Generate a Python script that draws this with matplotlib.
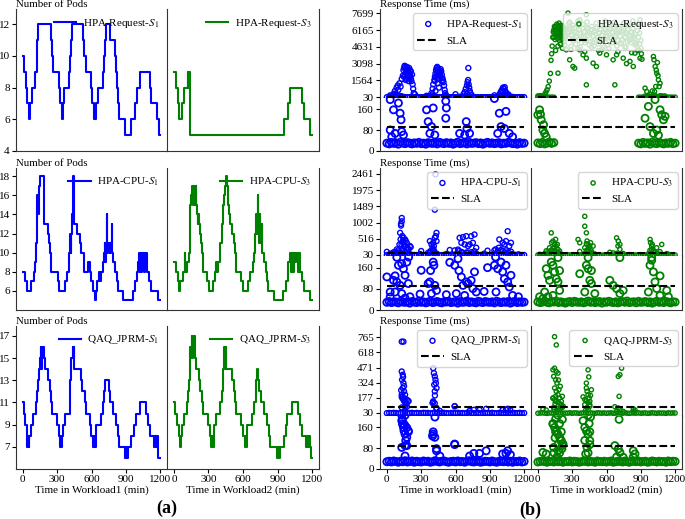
import matplotlib
matplotlib.use("Agg")
import matplotlib.pyplot as plt

plt.rcParams["font.family"] = ["Liberation Serif", "DejaVu Serif"]
plt.rcParams["mathtext.fontset"] = "stix"
plt.rcParams["font.size"] = 8

FIG_W, FIG_H = 685, 519

# ---------------------------------------------------------------- (a) pods
# change points (minutes) and pod count from that minute on
req_s1_t = [0, 14, 26, 35, 55, 64, 78, 110, 121, 127, 136, 246, 252, 263, 312, 324, 338, 347, 362, 402,
            414, 419, 428, 526, 535, 549, 593, 607, 622, 642, 659, 703, 711, 717, 723, 758, 804, 816, 824, 833,
            844, 896, 949, 983, 1001, 1021, 1113, 1122, 1174, 1191, 1200]
req_s1_pods = [10, 9, 8, 7, 6, 7, 8, 9, 10, 11, 12, 11, 10, 9, 8, 7, 6, 7, 8, 9,
               10, 11, 12, 11, 10, 9, 8, 7, 6, 7, 8, 9, 10, 11, 12, 11, 10, 9, 8, 7,
               6, 5, 6, 7, 8, 9, 8, 7, 6, 5, 5]
req_s3_t = [0, 17, 32, 46, 70, 84, 119, 125, 130, 136, 142, 954, 989, 1012, 1113, 1133, 1186, 1200]
req_s3_pods = [9, 8, 7, 6, 7, 8, 9, 8, 9, 8, 5, 6, 7, 8, 7, 6, 5, 5]

cpu_s1_t = [0, 20, 35, 69, 98, 110, 116, 121, 127, 133, 139, 150, 188, 217, 231, 237, 246, 309, 318, 367,
            382, 405, 411, 417, 423, 428, 434, 443, 448, 474, 497, 512, 532, 573, 584, 593, 616, 628, 642, 651,
            665, 671, 680, 700, 708, 714, 720, 726, 732, 738, 746, 758, 766, 775, 781, 790, 804, 827, 836, 879,
            960, 983, 995, 1009, 1015, 1021, 1027, 1032, 1038, 1044, 1050, 1056, 1064, 1070, 1076, 1087, 1102,
            1116, 1180, 1200]
cpu_s1_pods = [8, 7, 6, 7, 8, 9, 11, 12, 16, 14, 17, 18, 13, 12, 11, 10, 8, 7, 6, 7,
               8, 10, 12, 10, 12, 14, 18, 14, 13, 12, 11, 10, 8, 9, 8, 7, 6, 5, 6, 7,
               8, 7, 8, 9, 10, 11, 9, 11, 14, 10, 11, 10, 11, 13, 10, 9, 8, 7, 6, 5,
               6, 7, 8, 9, 10, 8, 10, 8, 10, 9, 10, 8, 10, 9, 10, 8, 7, 6, 5, 5]
cpu_s3_t = [0, 17, 32, 46, 55, 78, 93, 99, 113, 128, 136, 142, 148, 154, 165, 171, 183, 188, 194, 200,
            206, 212, 217, 223, 232, 241, 249, 287, 304, 339, 360, 368, 374, 383, 403, 417, 426, 438, 446, 452,
            461, 470, 478, 490, 507, 519, 528, 539, 583, 600, 641, 664, 687, 699, 707, 716, 722, 728, 733, 739,
            745, 751, 762, 768, 780, 797, 809, 820, 867, 948, 977, 989, 994, 1006, 1015, 1023, 1032, 1041, 1052,
            1064, 1076, 1087, 1099, 1113, 1128, 1180, 1200]
cpu_s3_pods = [9, 8, 7, 6, 7, 8, 10, 8, 9, 10, 12, 15, 16, 17, 15, 17, 15, 17, 15, 14,
               13, 14, 13, 12, 11, 10, 8, 7, 6, 7, 8, 9, 8, 9, 11, 13, 15, 16, 17, 18,
               17, 15, 14, 13, 12, 11, 10, 8, 7, 6, 7, 8, 9, 10, 12, 14, 12, 16, 13, 11,
               14, 11, 13, 10, 9, 8, 7, 6, 5, 6, 7, 8, 9, 10, 8, 10, 8, 10, 9, 10,
               8, 10, 8, 7, 6, 5, 5]

qaq_s1_t = [0, 6, 23, 35, 40, 46, 52, 58, 72, 87, 116, 127, 136, 145, 150, 156, 162, 168, 174, 179,
            185, 194, 223, 237, 246, 252, 301, 312, 324, 333, 335, 341, 353, 370, 411, 416, 425, 434, 440, 445,
            451, 506, 521, 541, 549, 584, 599, 613, 622, 628, 636, 685, 700, 709, 717, 752, 764, 787, 816, 830,
            844, 897, 902, 908, 920, 946, 975, 989, 1027, 1076, 1096, 1111, 1148, 1157, 1162, 1168, 1177, 1183,
            1200]
qaq_s1_pods = [11, 10, 9, 8, 7, 8, 7, 8, 9, 10, 11, 12, 13, 14, 15, 16, 14, 16, 15, 16,
               15, 14, 13, 12, 11, 10, 9, 8, 7, 8, 7, 8, 9, 10, 11, 13, 15, 16, 15, 16,
               14, 13, 12, 11, 10, 9, 8, 7, 8, 7, 9, 10, 11, 12, 13, 12, 11, 10, 9, 8,
               7, 6, 7, 6, 7, 8, 9, 10, 11, 10, 9, 8, 7, 8, 7, 8, 7, 6, 6]
qaq_s3_t = [0, 12, 26, 41, 49, 61, 70, 84, 113, 122, 130, 136, 142, 148, 154, 159, 165, 171, 177, 183,
            188, 220, 229, 244, 252, 299, 310, 322, 330, 336, 345, 368, 403, 415, 426, 432, 438, 444, 449, 455,
            507, 519, 533, 542, 583, 600, 615, 623, 629, 635, 681, 699, 710, 716, 725, 733, 742, 754, 780, 809,
            823, 838, 896, 905, 910, 919, 954, 974, 983, 1026, 1076, 1093, 1113, 1151, 1157, 1162, 1171, 1180,
            1191, 1200]
qaq_s3_pods = [11, 10, 9, 8, 7, 8, 9, 10, 11, 12, 13, 15, 16, 15, 17, 15, 17, 16, 17, 15,
               14, 13, 12, 11, 10, 9, 8, 7, 8, 7, 9, 10, 11, 12, 14, 15, 16, 14, 16, 14,
               13, 12, 11, 10, 9, 8, 7, 8, 7, 9, 10, 11, 12, 13, 14, 13, 12, 11, 10, 9,
               8, 7, 6, 7, 6, 7, 8, 9, 10, 11, 10, 9, 8, 7, 8, 7, 8, 7, 6, 6]

# ------------------------------------------------------- (b) response time
SLA_MS = 90
sla_t = [0, 1200]

sample_t = [0, 20, 40, 60, 80, 100, 120, 140, 160, 180, 200, 220, 240, 260, 280, 300, 320, 340, 360, 380,
            400, 420, 440, 460, 480, 500, 520, 540, 560, 580, 600, 620, 640, 660, 680, 700, 720, 740, 760, 780,
            800, 820, 840, 860, 880, 900, 920, 940, 960, 980, 1000, 1020, 1040, 1060, 1080, 1100, 1120, 1140,
            1160, 1180, 1200]

req_s1_base = [30, 27, 33, 29, 31, 26, 34, 30, 28, 32, 30, 27, 31, 29, 33, 28, 30, 26, 32, 30,
               29, 31, 27, 33, 30, 28, 32, 29, 31, 26, 30, 34, 28, 30, 31, 27, 33, 29, 30, 32,
               28, 31, 26, 30, 33, 29, 31, 28, 30, 32, 27, 30, 29, 33, 31, 28, 30, 26, 32, 29, 30]
req_s1_rt_t = [60, 70, 75, 85, 95, 100, 110, 120, 130, 140, 145, 150, 155, 160, 165, 170, 175, 180, 185, 190,
               195, 200, 205, 210, 215, 220, 225, 230, 235, 245, 150, 160, 170, 180, 190, 200, 210, 165, 175, 185,
               195,
               390, 400, 405, 415, 420, 425, 430, 435, 440, 445, 450, 455, 460, 465, 470, 475, 480, 485, 490, 495,
               500, 505, 510, 420, 430, 440, 450, 460, 470, 480, 445, 455, 425, 400,
               670, 680, 690, 700, 705, 710, 712, 715, 720, 725, 730, 700, 740, 600,
               940, 985, 995, 1005, 1010, 1015, 1025, 1030, 1035, 1045, 1055, 1065,
               29, 58, 101, 116, 124, 130, 29, 43, 72, 145, 347, 405, 361, 390, 376, 419, 515, 520, 515, 694,
               700, 636, 680, 723, 983, 1041, 998, 1027, 969, 1070, 1099]
req_s1_rt = [350, 600, 250, 900, 1100, 700, 1300, 1000, 1700, 2000, 2500, 2700, 2900, 2800, 2600, 2400, 2200,
             2000, 1800, 2300, 2700, 2500, 2000, 1700, 1500, 2100, 1200, 800, 400, 300, 1900, 2100, 1700, 2600,
             1500, 1800, 2400, 1600, 2800, 2500, 2000,
             400, 800, 1200, 1600, 1900, 2200, 2500, 2700, 2800, 2600, 2400, 2200, 2000, 2300, 2600, 2400, 2100,
             1800, 1600, 1400, 1100, 700, 400, 1500, 1800, 2100, 1700, 2500, 1900, 1500, 1300, 900, 600, 300,
             300, 500, 800, 1100, 1400, 1600, 2700, 1200, 900, 600, 400, 350, 250, 300,
             200, 300, 500, 700, 450, 900, 800, 950, 600, 400, 300, 250,
             196, 157, 183, 144, 119, 74, 80, 54, 67, 61, 157, 164, 112, 93, 67, 61, 190, 164, 125, 112,
             86, 67, 61, 67, 144, 151, 93, 86, 67, 67, 54]

req_s3_base = [31, 28, 33, 27, 30, 34, 29, 32,
               6100, 5800, 6400, 6000, 6300, 5900, 6200, 5700, 6000, 5500,
               6200, 5600, 6000, 5300, 6300, 5800, 5100, 6100, 5500, 5900,
               5200, 6200, 5700, 6000, 5400, 6300, 5600, 5900, 5000, 6100,
               5500, 5800, 5200, 6000, 5400, 4900,
               30, 27, 33, 29, 31, 26, 34, 30, 28, 32, 30, 27, 31, 29, 33, 28, 30]
req_s3_rt_t = [60, 70, 80, 90, 100, 110, 115, 120, 125, 130,
               135, 140, 145, 150, 155, 160, 165, 170, 175, 180, 185, 190, 195, 200, 205, 210, 215, 220, 225, 230,
               235, 240, 245, 250, 140, 150, 160, 170, 180, 190, 200, 210, 220, 230, 240, 145, 165, 185, 205, 225,
               175, 195, 215, 155, 235,
               260, 270, 280, 290, 300, 310, 320, 330, 340, 350, 360, 370, 380, 390, 400, 410, 420, 430, 440, 450,
               460, 470, 480, 490, 500, 510, 520, 530, 540, 550, 560, 570, 580, 590, 600, 610, 620, 630, 640, 650,
               660, 670, 680, 690, 700, 710, 720, 730, 740, 750, 760, 770, 780, 790, 800, 810, 820, 830, 840, 850,
               860, 870, 880, 890, 900,
               270, 290, 310, 330, 350, 370, 390, 410, 430, 450, 470, 490, 510, 530, 550, 570, 590, 610, 630, 650,
               670, 690, 710, 730, 750, 770, 790, 810, 830, 850, 870, 890,
               249, 278, 307, 322, 366, 395, 424, 483, 512, 541, 600, 658, 688, 746, 775, 805, 834, 849, 878, 893,
               424, 673, 176, 263, 424, 366, 278, 893, 290, 350, 410, 470, 530, 560, 620, 700, 760, 820, 870, 900,
               905, 910,
               1010, 1015, 1025, 1039, 1054, 1030, 1020, 1068, 937, 952, 1045, 1035, 1050, 1060, 1000, 980,
               15, 0, 29, 44, 59, 73, 50, 23, 937, 980, 1068, 1083, 1098, 1112, 1010, 966, 1024, 1039, 1054]
req_s3_rt = [300, 500, 700, 1000, 1500, 2200, 3400, 4000, 4700, 5500,
             6000, 6200, 5800, 6400, 6100, 6500, 5900, 6300, 6000, 6600, 6200, 5800, 6400, 6100, 5700, 6300,
             6000, 6500, 5900, 6200, 5600, 6100, 5800, 6300, 5500, 5300, 5700, 5400, 5600, 5200, 5500, 5300,
             5600, 5100, 5400, 6500, 6700, 6800, 6600, 6400, 4700, 4900, 4500, 4300, 4800,
             6000, 5400, 6300, 5700, 6100, 5200, 6400, 5600, 6000, 5300, 6200, 5800, 5000, 6300, 5500, 6000,
             5200, 6400, 5700, 5900, 5100, 6200, 5600, 6000, 5300, 6300, 5500, 5900, 5200, 6200, 5700, 6000,
             5400, 6300, 5600, 5900, 5100, 6200, 5500, 6000, 5300, 6400, 5700, 5900, 5200, 6100, 5600, 6000,
             5300, 6300, 5500, 5900, 5100, 6200, 5700, 6000, 5400, 6300, 5600, 5800, 5000, 6100, 5500, 5900,
             5200,
             6800, 4700, 6600, 4900, 7000, 4600, 6700, 5000, 6900, 4800, 6500, 4700, 6800, 4900, 6600, 4600,
             7000, 4800, 6700, 5000, 6900, 4700, 6500, 4900, 6800, 4600, 6600, 5000, 7000, 4800, 6700, 4900,
             4360, 3446, 2836, 2683, 4360, 3903, 3598, 3141, 2836, 4057, 3903, 3446, 3903, 3598, 3100, 3300,
             2836, 4057, 4360, 3598, 1158, 1158, 2225, 7717, 7564, 7106, 6900, 7106, 4400, 4500, 4200, 4600,
             4300, 4400, 4500, 4200, 4600, 4100, 4300, 4500, 4000, 3500,
             3750, 3450, 2836, 2225, 1617, 1006, 548, 1300, 854, 548, 3200, 2500, 2000, 1000, 600, 300,
             157, 138, 119, 80, 67, 54, 100, 140, 125, 93, 157, 138, 119, 132, 67, 170, 196, 80, 60]

cpu_s1_base = [29, 32, 28, 31, 30, 27, 33, 30, 29, 31, 26, 32, 30, 28, 34, 29, 31, 27, 30, 33,
               28, 30, 32, 29, 27, 31, 30, 33, 28, 30, 31, 26, 32, 29, 30, 34, 28, 31, 29, 27,
               33, 30, 28, 32, 30, 29, 31, 27, 33, 30, 28, 31, 29, 32, 26, 30, 33, 28, 31, 29, 30]
cpu_s1_rt_t = [130, 130, 124, 124, 116, 145, 159, 110, 87, 72, 139, 150, 174, 202, 208, 120, 135, 140, 155, 165,
               180, 190, 128,
               419, 425, 434, 419, 405, 390, 411, 376, 399, 382, 434, 428,
               636, 665, 694, 737, 766, 651, 680, 709, 723, 752, 630, 781,
               1056, 983, 1012, 1027, 1041, 1070, 1085, 978, 300, 550, 880, 950,
               0, 29, 58, 87, 101, 130, 145, 159, 174, 188, 116, 72, 130, 29, 159, 202,
               361, 376, 405, 411, 419, 390, 434,
               593, 622, 651, 665, 694, 709, 737, 752, 766, 607, 680, 781,
               940, 969, 998, 1012, 1027, 1041, 1056, 1070, 1085, 954, 1099, 290, 520, 850, 1150]
cpu_s1_rt = [1141, 1042, 963, 913, 695, 546, 496, 347, 199, 129, 447, 347, 397, 298, 268, 500, 600, 400, 300,
             450, 250, 200, 350,
             1389, 2450, 695, 546, 397, 347, 298, 447, 248, 149, 447, 595,
             546, 566, 595, 595, 645, 397, 347, 298, 347, 397, 149, 248,
             744, 496, 397, 347, 447, 298, 397, 248, 150, 180, 160, 200,
             125, 68, 112, 106, 169, 175, 156, 131, 181, 100, 93, 68, 62, 49, 45, 50,
             100, 106, 181, 169, 93, 62, 74,
             169, 194, 125, 93, 106, 100, 112, 81, 144, 62, 55, 68,
             169, 156, 181, 144, 118, 169, 106, 87, 131, 68, 55, 60, 58, 70, 50]

cpu_s3_base = [31, 28, 30, 33, 29, 27, 32, 30, 34, 28, 31, 29, 26, 30, 32, 28, 33, 30, 29, 31,
               27, 30, 34, 29, 31, 28, 30, 32, 26, 31, 29, 33, 30, 28, 31, 27, 30, 32, 29, 34,
               28, 30, 31, 27, 33, 29, 30, 32, 28, 31, 26, 30, 33, 29, 31, 28, 32, 30, 27, 31, 30]
cpu_s3_rt_t = [410, 410, 424, 117, 351, 366, 424, 439, 454, 688, 703, 717, 981, 995, 1083, 132, 146, 161, 102, 176,
               190, 410, 439, 468, 717, 995, 1039, 1068, 483, 120, 140, 155, 170, 430, 445, 460, 700, 985, 1000,
               73, 88, 102, 117, 132, 146, 161, 176, 190, 59, 88, 132, 366, 424, 439, 454, 468, 410, 498, 629,
               658, 688, 717, 746, 980, 995, 1010, 1024, 1039, 1068, 966, 1127, 1141, 15, 44]
cpu_s3_rt = [1190, 893, 695, 695, 496, 397, 367, 347, 300, 546, 447, 347, 496, 298, 347, 447, 347, 298, 248, 198,
             149, 248, 198, 149, 198, 198, 248, 129, 298, 400, 250, 500, 350, 450, 250, 400, 300, 400, 350,
             156, 131, 112, 181, 169, 144, 118, 106, 74, 68, 50, 55, 137, 169, 156, 112, 100, 68, 62, 112,
             93, 81, 62, 74, 169, 188, 144, 106, 81, 55, 68, 74, 50, 50, 43]

qaq_s1_base = [28, 30, 27, 31, 29, 26, 30, 28, 32, 27, 29, 31, 26, 30, 28, 27, 31, 29, 30, 26,
               28, 32, 29, 27, 30, 31, 28, 26, 29, 30, 27, 31, 28, 29, 26, 30, 32, 28, 27, 29,
               31, 26, 28, 30, 29, 27, 31, 28, 26, 30, 29, 28, 31, 27, 30, 26, 29, 28, 31, 27, 29]
qaq_s1_rt_t = [130, 145, 130, 139, 133, 145, 150, 159, 174, 188, 139, 150, 130, 165, 405, 411, 419, 425, 414, 434,
               419, 405, 399, 434, 593, 1041, 810, 136, 155, 420, 428, 142, 125,
               130, 136, 145, 150, 159, 174, 188, 130, 159, 174, 405, 419, 434, 593, 868, 1012, 1056, 463, 723,
               159, 760, 1080]
qaq_s1_rt = [723, 723, 433, 401, 352, 320, 240, 207, 159, 143, 272, 290, 207, 110, 465, 417, 385, 352, 304, 272,
             240, 143, 127, 78, 94, 60, 60, 190, 170, 200, 320, 380, 250,
             186, 173, 160, 147, 134, 122, 147, 83, 90, 90, 134, 122, 70, 96, 70, 58, 70, 50, 50,
             50, 60, 55]

qaq_s3_base = [27, 29, 31, 28, 26, 30, 29, 27, 31, 28, 30, 26, 29, 28, 31, 27, 30, 29, 26, 28,
               31, 29, 27, 30, 28, 26, 31, 29, 28, 30, 27, 29, 31, 26, 28, 30, 29, 27, 31, 28,
               26, 30, 29, 28, 31, 27, 29, 30, 26, 28, 31, 29, 27, 30, 28, 29, 26, 31, 28, 30, 29]
qaq_s3_rt_t = [132, 146, 161, 176, 138, 155, 167, 146, 161, 176, 190, 205, 132, 155, 176, 190, 210, 141, 167, 184,
               196, 214, 146, 161, 150, 180, 200,
               439, 424, 430, 439, 448, 454, 410, 454, 439, 468, 424, 445, 460,
               732, 717, 703, 710, 688, 834,
               132, 146, 161, 176, 190, 205, 220, 155, 138, 176, 214, 395, 410, 424, 439, 454, 430, 418, 673, 703,
               717, 746, 834, 849, 44, 73]
qaq_s3_rt = [449, 465, 433, 417, 385, 352, 320, 272, 240, 207, 175, 143, 175, 143, 94, 62, 78, 62, 46, 255,
             288, 191, 771, 691, 120, 350, 110,
             449, 272, 240, 207, 175, 143, 110, 94, 62, 255, 320, 380, 200,
             465, 401, 385, 191, 46, 46,
             173, 160, 147, 134, 122, 109, 96, 192, 83, 70, 90, 186, 160, 147, 134, 109, 83, 58, 90, 77,
             64, 45, 70, 58, 64, 58]

# --------------------------------------------------------------- layout
COLS_A = [(16, 167), (167, 319)]
COLS_B = [(380, 531), (531, 682)]
ROWS = [(9, 151), (168, 310), (326, 469)]
SPLIT = [97.5, 256, 416]
XTICKS = [0, 300, 600, 900, 1200]
BLUE, GREEN = "#0000ff", "#008000"


def px_rect(left, top, right, bottom):
    return [left / FIG_W, 1 - bottom / FIG_H, (right - left) / FIG_W, (bottom - top) / FIG_H]


def style(ax, col, show_x, top=False, bottom=True):
    ax.spines["top"].set_visible(top)
    ax.spines["bottom"].set_visible(bottom)
    if col == 0:
        ax.spines["right"].set_visible(False)
    for sp in ax.spines.values():
        sp.set_linewidth(0.8)
        sp.set_color("#333333")
    ax.tick_params(direction="out", length=3, width=0.8, labelsize=8, pad=1.5)
    if col == 1:
        ax.tick_params(axis="y", left=False, labelleft=False)
    ax.set_xlim(-60, 1260)
    ax.set_xticks(XTICKS)
    if not show_x:
        ax.tick_params(axis="x", bottom=False, labelbottom=False)


def top_label(ax, text):
    ax.annotate(text, xy=(0, 1), xycoords="axes fraction", xytext=(0, 0.3),
                textcoords="offset points", ha="left", va="bottom", fontsize=7.8)


fig = plt.figure(figsize=(FIG_W / 100, FIG_H / 100), dpi=100)

pod_rows = [
    [("HPA-Request-$S_1$", req_s1_t, req_s1_pods), ("HPA-Request-$S_3$", req_s3_t, req_s3_pods)],
    [("HPA-CPU-$S_1$", cpu_s1_t, cpu_s1_pods), ("HPA-CPU-$S_3$", cpu_s3_t, cpu_s3_pods)],
    [("QAQ_JPRM-$S_1$", qaq_s1_t, qaq_s1_pods), ("QAQ_JPRM-$S_3$", qaq_s3_t, qaq_s3_pods)],
]
pod_ylims = [(4, 12.95), (4, 18.85), (5, 17.9)]
pod_yticks = [[4, 6, 8, 10, 12], [6, 8, 10, 12, 14, 16, 18], [7, 9, 11, 13, 15, 17]]
workloads = ["Time in Workload1 (min)", "Time in Workload2 (min)"]

for r, row in enumerate(pod_rows):
    for c, (label, t, pods) in enumerate(row):
        left, right = COLS_A[c]
        ax = fig.add_axes(px_rect(left, ROWS[r][0], right, ROWS[r][1]))
        ax.plot(t, pods, drawstyle="steps-post", color=[BLUE, GREEN][c], lw=1.5, label=label)
        ax.set_ylim(*pod_ylims[r])
        ax.set_yticks(pod_yticks[r])
        style(ax, c, r == 2)
        ax.legend(loc="upper right", frameon=False, fontsize=8, borderaxespad=0.3, handletextpad=0.6)
        if c == 0:
            top_label(ax, "Number of Pods")
        if r == 2:
            ax.set_xlabel(workloads[c], fontsize=8, labelpad=1)

rt_rows = [
    [("HPA-Request-$S_1$", req_s1_base, req_s1_rt_t, req_s1_rt),
     ("HPA-Request-$S_3$", req_s3_base, req_s3_rt_t, req_s3_rt)],
    [("HPA-CPU-$S_1$", cpu_s1_base, cpu_s1_rt_t, cpu_s1_rt),
     ("HPA-CPU-$S_3$", cpu_s3_base, cpu_s3_rt_t, cpu_s3_rt)],
    [("QAQ_JPRM-$S_1$", qaq_s1_base, qaq_s1_rt_t, qaq_s1_rt),
     ("QAQ-JPRM-$S_3$", qaq_s3_base, qaq_s3_rt_t, qaq_s3_rt)],
]
rt_max = [7699, 2461, 765]
rt_top = [8093, 2640, 875]
workloads_b = ["Time in workload1 (min)", "Time in workload2 (min)"]

for r, row in enumerate(rt_rows):
    top, bottom = ROWS[r]
    mid = SPLIT[r]
    for c, (label, base, t, rt) in enumerate(row):
        left, right = COLS_B[c]
        color = [BLUE, GREEN][c]
        xs = sample_t + t
        ys = base + rt
        ax_up = fig.add_axes(px_rect(left, top, right, mid))
        ax_lo = fig.add_axes(px_rect(left, mid, right, bottom))

        sc = ax_up.scatter(xs, ys, s=[13, 9][c], facecolors="none", edgecolors=color, linewidths=1.0)
        sla, = ax_up.plot(sla_t, [SLA_MS, SLA_MS], color="black", ls="--", lw=1.5)
        ax_up.set_ylim(0, rt_top[r])
        step = (rt_max[r] - 30) / 5
        ticks = [30 + step * k for k in range(6)]
        ax_up.set_yticks(ticks)
        ax_up.set_yticklabels([f"{v:.0f}" for v in ticks])
        style(ax_up, c, False)
        ax_up.legend([sc, sla], [label, "SLA"], loc="upper right", fontsize=8, borderaxespad=0.4,
                     handletextpad=0.6, labelspacing=0.45)
        if c == 0:
            top_label(ax_up, "Response Time (ms)")

        ax_lo.scatter(xs, ys, s=26, facecolors="none", edgecolors=color, linewidths=1.3)
        ax_lo.plot(sla_t, [SLA_MS, SLA_MS], color="black", ls="--", lw=1.5)
        ax_lo.set_ylim(0, 204)
        ax_lo.set_yticks([0, 80, 160])
        style(ax_lo, c, r == 2)
        if r == 2:
            ax_lo.set_xlabel(workloads_b[c], fontsize=8, labelpad=1)

fig.text(167 / FIG_W, 1 - 508 / FIG_H, "(a)", fontsize=13, fontweight="bold", ha="center", va="center")
fig.text(530 / FIG_W, 1 - 510 / FIG_H, "(b)", fontsize=13, fontweight="bold", ha="center", va="center")

fig.savefig("out.png", dpi=100)
